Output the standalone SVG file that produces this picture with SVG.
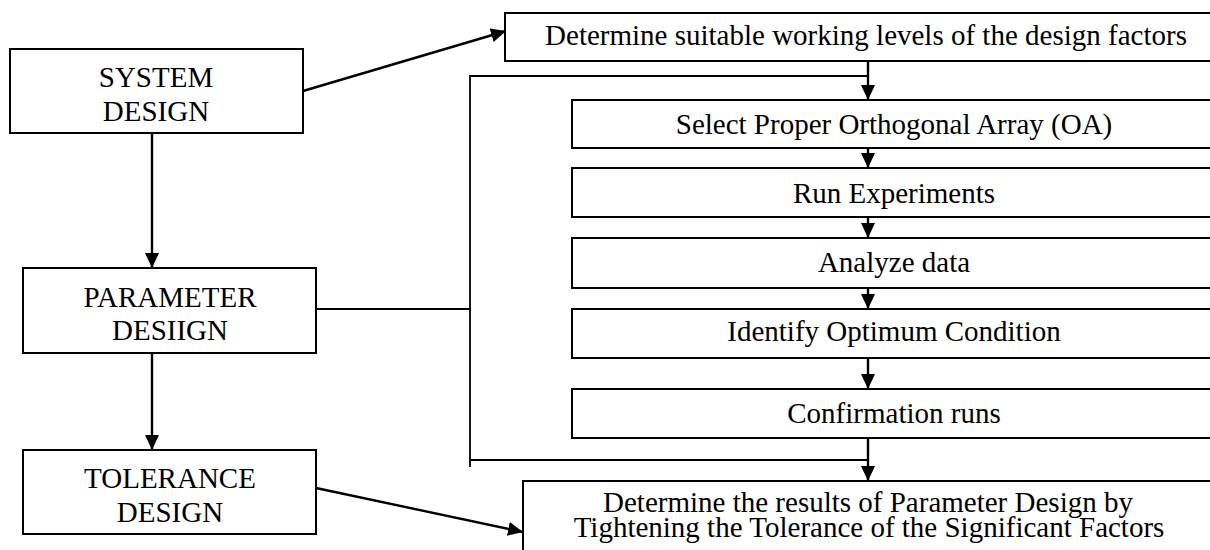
<svg xmlns="http://www.w3.org/2000/svg" width="1210" height="550" viewBox="0 0 1210 550">
  <style>
    .box { fill: #ffffff; stroke: #000000; stroke-width: 2; }
    .lbl { font-family: "Liberation Serif", "Times New Roman", serif; font-size: 29px; fill: #000000; text-anchor: middle; }
    .wire { fill: none; stroke: #000000; stroke-width: 2.4; }
    .rail { fill: none; stroke: #000000; stroke-width: 1.8; }
  </style>
  <defs>
    <marker id="head" viewBox="0 0 15 14" refX="15" refY="7" markerWidth="15" markerHeight="14" markerUnits="userSpaceOnUse" orient="auto">
      <path d="M0,0 L15,7 L0,14 Z" fill="#000000"/>
    </marker>
  </defs>

  <rect width="1210" height="550" fill="#ffffff"/>

  <!-- connectors -->
  <g id="connectors">
    <line class="wire" x1="303" y1="91" x2="506" y2="31" marker-end="url(#head)"/>
    <line class="wire" x1="152" y1="133" x2="152" y2="268" marker-end="url(#head)"/>
    <line class="wire" x1="152" y1="353" x2="152" y2="450" marker-end="url(#head)"/>
    <line class="wire" x1="316" y1="488" x2="523" y2="532" marker-end="url(#head)"/>
    <!-- bracket around the parameter-design steps -->
    <polyline class="rail" points="868,76 470,76 470,467"/>
    <line class="rail" x1="470" y1="460" x2="868" y2="460"/>
    <line class="rail" x1="316" y1="309" x2="470" y2="309"/>
    <line class="wire" x1="868" y1="61" x2="868" y2="100" marker-end="url(#head)"/>
    <line class="wire" x1="868" y1="148" x2="868" y2="168" marker-end="url(#head)"/>
    <line class="wire" x1="868" y1="217" x2="868" y2="238" marker-end="url(#head)"/>
    <line class="wire" x1="868" y1="288" x2="868" y2="309" marker-end="url(#head)"/>
    <line class="wire" x1="868" y1="358" x2="868" y2="389" marker-end="url(#head)"/>
    <line class="wire" x1="868" y1="438" x2="868" y2="481" marker-end="url(#head)"/>
  </g>

  <g id="system-design">
    <rect class="box" x="10" y="49" width="293" height="84"/>
    <text class="lbl" x="156" y="87">SYSTEM</text>
    <text class="lbl" x="156" y="121">DESIGN</text>
  </g>

  <g id="parameter-design">
    <rect class="box" x="23" y="268" width="293" height="85"/>
    <text class="lbl" x="170" y="307">PARAMETER</text>
    <text class="lbl" x="170" y="340">DESIIGN</text>
  </g>

  <g id="tolerance-design">
    <rect class="box" x="23" y="450" width="293" height="84"/>
    <text class="lbl" x="170" y="488">TOLERANCE</text>
    <text class="lbl" x="170" y="522">DESIGN</text>
  </g>

  <g id="working-levels">
    <rect class="box" x="505" y="13" width="720" height="48"/>
    <text class="lbl" x="866" y="45">Determine suitable working levels of the design factors</text>
  </g>

  <g id="select-oa">
    <rect class="box" x="572" y="100" width="660" height="48"/>
    <text class="lbl" x="894" y="134">Select Proper Orthogonal Array (OA)</text>
  </g>

  <g id="run-experiments">
    <rect class="box" x="572" y="168" width="660" height="49"/>
    <text class="lbl" x="894" y="203">Run Experiments</text>
  </g>

  <g id="analyze-data">
    <rect class="box" x="572" y="238" width="660" height="50"/>
    <text class="lbl" x="894" y="272">Analyze data</text>
  </g>

  <g id="optimum-condition">
    <rect class="box" x="572" y="309" width="660" height="49"/>
    <text class="lbl" x="894" y="341">Identify Optimum Condition</text>
  </g>

  <g id="confirmation-runs">
    <rect class="box" x="572" y="389" width="660" height="49"/>
    <text class="lbl" x="894" y="423">Confirmation runs</text>
  </g>

  <g id="tolerance-results">
    <rect class="box" x="523" y="481" width="720" height="90"/>
    <text class="lbl" x="868" y="512">Determine the results of Parameter Design by</text>
    <text class="lbl" x="869" y="537">Tightening the Tolerance of the Significant Factors</text>
  </g>
</svg>
